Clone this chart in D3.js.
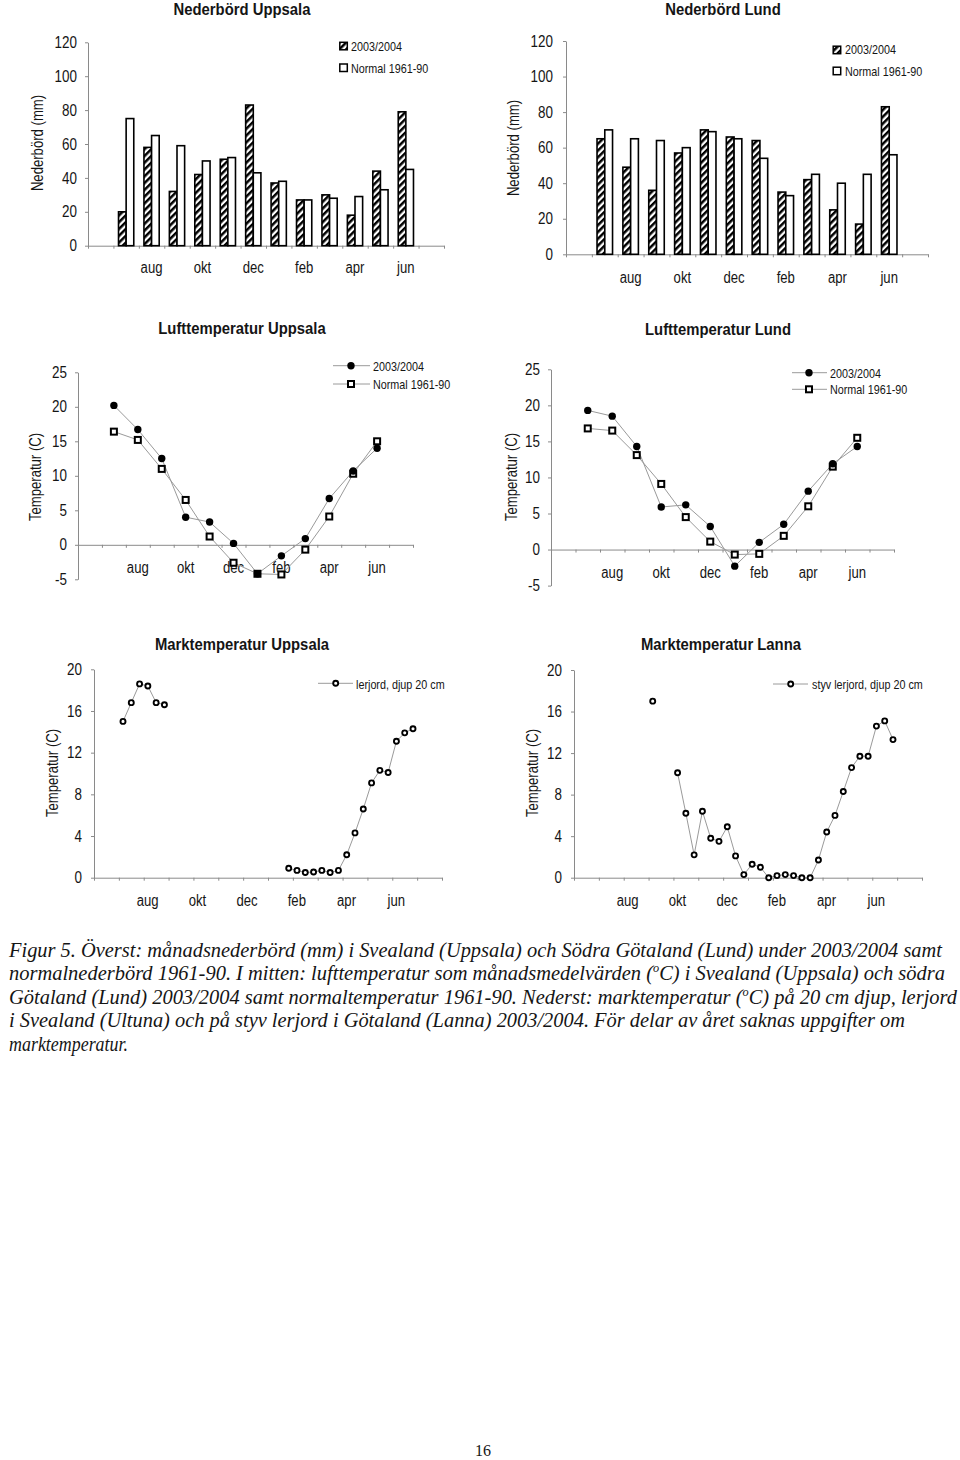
<!DOCTYPE html>
<html><head><meta charset="utf-8">
<script src="https://cdn.jsdelivr.net/npm/d3@7"></script>
<style>
body{margin:0;background:#fff;}
svg text{font-family:"Liberation Sans",Arial,sans-serif;fill:#151515;}
svg text.cap{font-family:"Liberation Serif","Times New Roman",serif;font-style:italic;}
svg text.pg{font-family:"Liberation Serif","Times New Roman",serif;}
</style></head><body>
<svg id="c" width="960" height="1460"></svg>
<script>
// ---------------- data ----------------
const months = ["jul","aug","sep","okt","nov","dec","jan","feb","mar","apr","maj","jun"];
const monthLabels = ["aug","okt","dec","feb","apr","jun"];
const seriesNames = ["2003/2004","Normal 1961-90"];
const precipTicks = [0,20,40,60,80,100,120];
const airTicks = [-5,0,5,10,15,20,25];
const soilTicks = [0,4,8,12,16,20];

const precipUppsala2003   = [20,58,32,42,51,83,37,27,30,18,44,79];
const precipUppsalaNormal = [75,65,59,50,52,43,38,27,28,29,33,45];
const precipLund2003      = [65,49,36,57,70,66,64,35,42,25,17,83];
const precipLundNormal    = [70,65,64,60,69,65,54,33,45,40,45,56];

const airUppsala2003   = [20.2,16.7,12.5,4.0,3.3,0.2,-4.2,-1.6,0.9,6.7,10.7,14.0];
const airUppsalaNormal = [16.4,15.2,11.0,6.5,1.2,-2.6,-4.2,-4.3,-0.7,4.1,10.3,15.0];
const airLund2003      = [19.3,18.5,14.3,5.9,6.2,3.2,-2.3,1.0,3.5,8.1,11.9,14.3];
const airLundNormal    = [16.8,16.5,13.1,9.1,4.5,1.1,-0.7,-0.6,1.9,6.0,11.5,15.5];

// soil temperature, 20 cm, per ten-day period (36 periods jul..jun), null = missing
const soilUppsalaName = "lerjord, djup 20 cm";
const soilUppsala = [15.0,16.8,18.6,18.4,16.8,16.6,
  null,null,null,null,null,null,null,null,null,null,null,null,null,null,
  0.9,0.7,0.5,0.55,0.7,0.5,0.7,2.2,4.3,6.6,9.1,10.3,10.1,13.1,13.9,14.3];
const soilLannaName = "styv lerjord, djup 20 cm";
const soilLanna = [null,null,null,null,null,null,
  17.0,null,null,10.1,6.2,2.2,6.4,3.8,3.5,4.9,2.1,0.3,1.3,1.0,
  0.0,0.2,0.3,0.2,0.0,0.0,1.7,4.4,6.0,8.3,10.6,11.7,11.7,14.6,15.1,13.3];

const captionLines = [
  ["Figur 5. Överst: månadsnederbörd (mm) i Svealand (Uppsala) och Södra Götaland (Lund) under 2003/2004 samt"],
  ["normalnederbörd 1961-90. I mitten: lufttemperatur som månadsmedelvärden (","o","C) i Svealand (Uppsala) och södra"],
  ["Götaland (Lund) 2003/2004 samt normaltemperatur 1961-90. Nederst: marktemperatur (","o","C) på 20 cm djup, lerjord"],
  ["i Svealand (Ultuna) och på styv lerjord i Götaland (Lanna) 2003/2004. För delar av året saknas uppgifter om"],
  ["marktemperatur."]
];

// ---------------- drawing ----------------
const svg = d3.select("#c");
const AXIS = "#8a8a8a";
const cats = ["_s", ...months, "_e"];

const defs = svg.append("defs");
const pat = defs.append("pattern").attr("id","hatch").attr("patternUnits","userSpaceOnUse")
  .attr("width",4.8).attr("height",4.8).attr("patternTransform","rotate(45)");
pat.append("rect").attr("width",4.8).attr("height",4.8).attr("fill","#fff");
pat.append("rect").attr("width",2.5).attr("height",4.8).attr("fill","#000");

// horizontal condensing of a text element around its anchor (emulates a narrow face)
function condense(node, s){
  const t = d3.select(node);
  const x = +(t.attr("x")||0), y = +(t.attr("y")||0);
  const prev = t.attr("transform")||"";
  t.attr("transform", `${prev} translate(${x},${y}) scale(${s},1) translate(${-x},${-y})`);
}

function title(t,x,y){
  svg.append("text").attr("x",x).attr("y",y).attr("text-anchor","middle")
    .attr("font-weight","bold").attr("font-size",16.5).text(t)
    .each(function(){condense(this,0.9);});
}
function yTitle(t,x,y){
  svg.append("text").attr("transform",`translate(${x},${y}) rotate(-90)`)
    .attr("text-anchor","middle").attr("dy","0.35em").attr("font-size",16).text(t)
    .each(function(){condense(this,0.82);});
}
function yAxis(y,ticks,x,pad){
  const a = svg.append("g").attr("transform",`translate(${x},0)`)
    .call(d3.axisLeft(y).tickValues(ticks).tickSize(3).tickSizeOuter(0).tickPadding(pad).tickFormat(d=>String(d)));
  a.attr("font-family",null).attr("font-size",16);
  a.select(".domain").attr("stroke",AXIS);
  a.selectAll(".tick line").attr("stroke",AXIS);
  a.selectAll(".tick text").attr("fill","#151515").each(function(){condense(this,0.84);});
}
function xAxis(xl,xr,yPos){
  const s = d3.scaleLinear().domain([0,14]).range([xl,xr]);
  const a = svg.append("g").attr("transform",`translate(0,${yPos})`)
    .call(d3.axisBottom(s).tickValues(d3.range(15)).tickSize(3).tickSizeOuter(0).tickFormat(""));
  a.select(".domain").attr("stroke",AXIS);
  a.selectAll(".tick line").attr("stroke",AXIS);
  return s;
}
function monthText(xf,yb){
  monthLabels.forEach(m=>{
    svg.append("text").attr("x",xf(m)).attr("y",yb).attr("text-anchor","middle")
      .attr("font-size",16).text(m).each(function(){condense(this,0.82);});
  });
}
function legendText(t,x,yb){
  svg.append("text").attr("x",x).attr("y",yb).attr("font-size",13).text(t)
    .each(function(){condense(this,0.83);});
}
function dot(g,x,y){ g.append("circle").attr("cx",x).attr("cy",y).attr("r",3.7).attr("fill","#000"); }
function sq(g,x,y){ g.append("rect").attr("x",x-3).attr("y",y-3).attr("width",6).attr("height",6)
  .attr("fill","#fff").attr("stroke","#000").attr("stroke-width",2); }
function ring(g,x,y){ g.append("circle").attr("cx",x).attr("cy",y).attr("r",2.5)
  .attr("fill","#fff").attr("stroke","#000").attr("stroke-width",1.9); }

// ---- bar panels ----
function barPanel(p, a, b){
  const band = d3.scaleBand().domain(cats).range([p.xl,p.xr]).padding(0);
  const inner = d3.scaleBand().domain(seriesNames).range([0,band.bandwidth()]).paddingInner(0).paddingOuter(0.667);
  const y = d3.scaleLinear().domain([0,120]).range([p.y0,p.yTop]);
  title(p.title,p.tx,p.ty);
  yTitle("Nederbörd (mm)",p.ytx,p.yty);
  yAxis(y,precipTicks,p.xl,p.pad);
  xAxis(p.xl,p.xr,y(0));
  const g = svg.append("g");
  [a,b].forEach((arr,j)=>{
    g.selectAll(null).data(months).join("rect")
      .attr("x",m=>band(m)+inner(seriesNames[j]))
      .attr("y",(m,i)=>y(arr[i]))
      .attr("width",inner.bandwidth())
      .attr("height",(m,i)=>y(0)-y(arr[i]))
      .attr("fill",j?"#fff":"url(#hatch)")
      .attr("stroke","#000").attr("stroke-width",1.6);
  });
  monthText(m=>band(m)+band.bandwidth()/2,p.lb);
  // legend
  p.leg.forEach((l,j)=>{
    g.append("rect").attr("x",l[0]).attr("y",l[1]).attr("width",7.5).attr("height",7.5)
      .attr("fill",j?"#fff":"url(#hatch)").attr("stroke","#000").attr("stroke-width",1.5);
    legendText(seriesNames[j],l[2],l[3]);
  });
}
barPanel({title:"Nederbörd Uppsala",tx:242,ty:14.5,ytx:37,yty:143,xl:88,xr:444,y0:245.7,yTop:42.3,pad:8,lb:273.3,
  leg:[[339.8,42.3,351,51.5],[339.8,64,351,72.7]]}, precipUppsala2003, precipUppsalaNormal);
barPanel({title:"Nederbörd Lund",tx:723,ty:14.5,ytx:513,yty:148,xl:566,xr:928,y0:254.3,yTop:41,pad:10,lb:282.7,
  leg:[[833.2,46.2,845,54.3],[833.2,67.2,845,76]]}, precipLund2003, precipLundNormal);

// ---- air temperature panels ----
function airPanel(p, a, b){
  const band = d3.scaleBand().domain(cats).range([p.xl,p.xr]).padding(0);
  const y = d3.scaleLinear().domain([-5,25]).range([p.yM5,p.y25]);
  title(p.title,p.tx,p.ty);
  yTitle("Temperatur (C)",p.ytx,p.yty);
  yAxis(y,airTicks,p.xl,p.pad);
  xAxis(p.xl,p.xr,y(0));
  monthText(m=>band(m)+band.bandwidth()/2,p.lb);
  const cx = m=>band(m)+band.bandwidth()/2;
  const line = d3.line().x((d,i)=>cx(months[i])).y(d=>y(d));
  const g = svg.append("g");
  [b,a].forEach(arr=>g.append("path").attr("d",line(arr)).attr("fill","none").attr("stroke","#9a9a9a").attr("stroke-width",1));
  b.forEach((v,i)=>sq(g,cx(months[i]),y(v)));
  a.forEach((v,i)=>dot(g,cx(months[i]),y(v)));
  // legend
  const L = p.leg;
  [L.y1,L.y2].forEach((yy,j)=>{
    g.append("line").attr("x1",L.x1).attr("x2",L.x2).attr("y1",yy).attr("y2",yy).attr("stroke","#9a9a9a").attr("stroke-width",1);
    if(j===0) dot(g,L.xm,yy); else sq(g,L.xm,yy);
    legendText(seriesNames[j],L.tx,yy+5.1);
  });
}
airPanel({title:"Lufttemperatur Uppsala",tx:242,ty:334.3,ytx:35,yty:477,xl:78,xr:413,yM5:579.3,y25:372.3,pad:8,lb:573.3,
  leg:{x1:333,x2:370,xm:351,tx:373,y1:365.7,y2:384}}, airUppsala2003, airUppsalaNormal);
airPanel({title:"Lufttemperatur Lund",tx:718,ty:335,ytx:511,yty:477,xl:551,xr:894,yM5:585.6,y25:369.3,pad:8,lb:578.3,
  leg:{x1:792,x2:827,xm:809,tx:830,y1:372.7,y2:389.3}}, airLund2003, airLundNormal);

// ---- soil temperature panels ----
function soilPanel(p, arr, name){
  const x = d3.scaleLinear().domain([0,14]).range([p.xl,p.xr]);
  const y = d3.scaleLinear().domain([0,20]).range([p.y0,p.y20]);
  title(p.title,p.tx,p.ty);
  yTitle("Temperatur (C)",p.ytx,p.yty);
  yAxis(y,soilTicks,p.xl,p.pad);
  xAxis(p.xl,p.xr,y(0));
  monthText(m=>x(cats.indexOf(m)+0.16),p.lb);
  const px = i=>x(1+(i+0.5)/3);
  const line = d3.line().defined(d=>d!==null).x((d,i)=>px(i)).y(d=>y(d));
  const g = svg.append("g");
  g.append("path").attr("d",line(arr)).attr("fill","none").attr("stroke","#9a9a9a").attr("stroke-width",1);
  arr.forEach((v,i)=>{ if(v!==null) ring(g,px(i),y(v)); });
  const L = p.leg;
  g.append("line").attr("x1",L.x1).attr("x2",L.x2).attr("y1",L.y).attr("y2",L.y).attr("stroke","#9a9a9a").attr("stroke-width",1);
  ring(g,L.xm,L.y);
  legendText(name,L.tx,L.y+5.5);
}
soilPanel({title:"Marktemperatur Uppsala",tx:242,ty:650,ytx:52,yty:773,xl:94,xr:442,y0:877.7,y20:669.3,pad:9,lb:906,
  leg:{x1:318,x2:353,xm:335.7,tx:356,y:683.3}}, soilUppsala, soilUppsalaName);
soilPanel({title:"Marktemperatur Lanna",tx:721,ty:650,ytx:532,yty:773,xl:574,xr:922,y0:877.7,y20:670,pad:9,lb:906,
  leg:{x1:773,x2:808,xm:790.7,tx:812,y:684}}, soilLanna, soilLannaName);

// ---- caption ----
const capX = 9, capBase = 956.5, capStep = 23.6;
const capW = [933, 936, 948, 896, 119];
captionLines.forEach((parts,i)=>{
  const t = svg.append("text").attr("class","cap").attr("x",capX).attr("y",capBase+i*capStep)
    .attr("font-size",20).attr("textLength",capW[i]).attr("lengthAdjust","spacingAndGlyphs");
  parts.forEach((s,k)=>{
    const sp = t.append("tspan").text(s);
    if(parts.length>1 && k===1) sp.attr("font-size",12).attr("dy",-8);
    if(parts.length>1 && k===2) sp.attr("dy",8);
  });
});
svg.append("text").attr("class","pg").attr("x",483).attr("y",1455.5).attr("text-anchor","middle")
  .attr("font-size",16).text("16");
</script>
</body></html>
